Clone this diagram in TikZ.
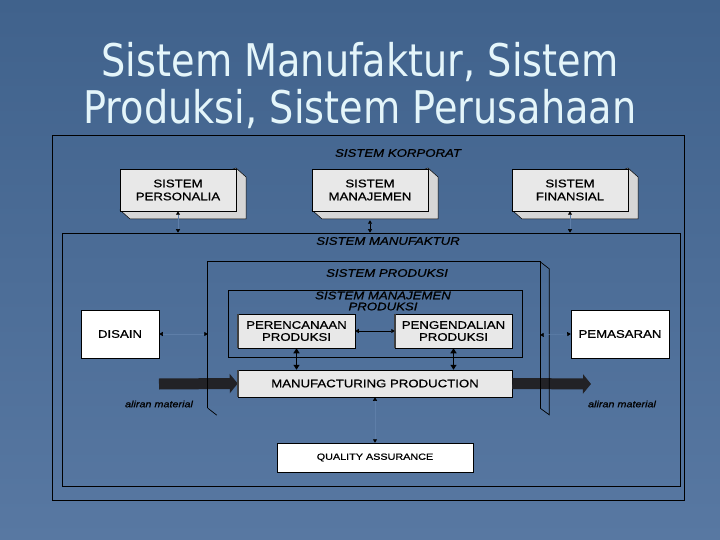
\documentclass[tikz,border=0pt]{standalone}
\usepackage{fontspec}
\setmainfont{Liberation Sans}
\newfontfamily\titlefont[FakeStretch=0.85]{DejaVu Sans}
\newfontfamily\boxfont[FakeStretch=1.2,FakeBold=0.8]{Liberation Sans}
\usetikzlibrary{arrows.meta}

\definecolor{slatetop}{RGB}{64,98,140}
\definecolor{slatebot}{RGB}{88,120,162}
\definecolor{titletext}{RGB}{228,245,250}
\definecolor{facegray}{RGB}{232,232,232}
\definecolor{sidegray}{RGB}{214,214,214}
\definecolor{faintline}{RGB}{94,126,168}
\definecolor{flowdark}{RGB}{34,34,38}

\tikzset{
  tipsmall/.tip={Triangle[length=3.5pt,width=4pt,color=black]},
  tipbig/.tip={Triangle[length=5pt,width=6pt]},
  frame/.style={draw=black, line width=0.7pt, inner sep=0pt},
  cubeface/.style={draw=black, fill=facegray, line width=0.5pt, inner sep=0pt,
    minimum width=116, minimum height=42, align=center,
    font=\boxfont\fontsize{11}{13}\selectfont},
  graybox/.style={draw=black, fill=facegray, line width=0.5pt, inner sep=0pt,
    align=center, font=\boxfont\fontsize{11}{12}\selectfont},
  whitebox/.style={draw=black, fill=white, line width=0.5pt, inner sep=0pt,
    align=center, font=\boxfont\fontsize{11}{12}\selectfont},
  syslabel/.style={inner sep=0pt, align=center, font=\boxfont\itshape\fontsize{11}{11}\selectfont},
  flowlabel/.style={inner sep=0pt, font=\boxfont\itshape\fontsize{9}{9}\selectfont},
  link/.style={draw=faintline, line width=0.5pt, tipsmall-tipsmall},
  biglink/.style={draw=black, line width=1.6pt, tipbig-tipbig},
  flow/.style={draw=flowdark, line width=11pt, -{Triangle[length=8pt,width=19pt]}},
  title/.style={inner sep=0pt, text=titletext, font=\titlefont\fontsize{45}{47}\selectfont}
}

\begin{document}
\begin{tikzpicture}[x=1pt,y=-1pt]
\useasboundingbox (0,0) rectangle (720,540);
\shade[top color=slatetop, bottom color=slatebot] (0,0) rectangle (720,540);

% title
\node[title, anchor=base] (title1) at (360,77) {Sistem Manufaktur, Sistem};
\node[title, anchor=base] (title2) at (360,124) {Produksi, Sistem Perusahaan};

% outer frames
\node[frame, minimum width=632, minimum height=365] (korporat) at (368,317.5) {};
\node[syslabel] (korporatlbl) at (398,153) {SISTEM KORPORAT};
\node[frame, minimum width=618, minimum height=253] (manufaktur) at (371,359.5) {};
\node[syslabel] (manufakturlbl) at (388,241) {SISTEM MANUFAKTUR};

% top boxes with depth
\foreach \n/\x/\txt in {personalia/178/{SISTEM\\PERSONALIA},
                         manajemen/370/{SISTEM\\MANAJEMEN},
                         finansial/570/{SISTEM\\FINANSIAL}} {
  \fill[sidegray, draw=black, line width=0.5pt] (\x-58,210) -- ++(10,9) -- ++(116,0) -- ++(0,-42) -- ++(-10,-9) -- cycle;
  \node[cubeface] (\n) at (\x,190) {\txt};
}

% flows (drawn below the production frame)
\coordinate (inflow) at (159,384);
\coordinate (outflow) at (591,384);
\node[graybox, minimum width=274, minimum height=27] (mfgprod) at (375,383.5) {MANUFACTURING PRODUCTION};
\draw[flow] (inflow) -- (mfgprod.west);
\draw[flow] (mfgprod.east) -- (outflow);
\node[flowlabel] (inlbl) at (159,404) {aliran material};
\node[flowlabel] (outlbl) at (622,404) {aliran material};

% production system frame
\node[inner sep=0pt, minimum width=332, minimum height=146] (produksi) at (374,335) {};
\draw[line width=0.7pt] (produksi.south west) |- (produksi.north east) -- (produksi.south east);
\draw[line width=0.7pt] (produksi.north east) -- ++(9,7) -- ++(0,146) -- (produksi.south east);
\draw[line width=0.7pt] (produksi.south west) -- ++(9,7);
\node[syslabel] (produksilbl) at (387,273) {SISTEM PRODUKSI};

\node[frame, minimum width=294, minimum height=67] (mgtprod) at (375,323.5) {};
\node[syslabel] (mgtprodlbl) at (383,301) {SISTEM MANAJEMEN\\PRODUKSI};

\node[graybox, minimum width=117, minimum height=34] (rencana) at (296.5,331) {PERENCANAAN\\PRODUKSI};
\node[graybox, minimum width=117, minimum height=34] (kendali) at (453.5,331) {PENGENDALIAN\\PRODUKSI};
\foreach \n in {rencana,kendali,mfgprod}
  \draw[line width=1.6pt, draw=black!75] (\n.north west) -- (\n.south west);

\node[whitebox, minimum width=78, minimum height=48] (disain) at (120,334) {DISAIN};
\node[whitebox, minimum width=98, minimum height=48] (pasar) at (620,334) {PEMASARAN};
\node[whitebox, minimum width=196, minimum height=29, font=\boxfont\fontsize{9}{10}\selectfont] (qa) at (375,457.5) {QUALITY ASSURANCE};

% connectors
\foreach \n in {personalia,finansial}
  \draw[link] (\n.south) -- (\n.south |- manufaktur.north);
\draw[draw=black, line width=0.6pt, tipsmall-tipsmall] (manajemen.south) ++(0,9) -- (manajemen.south |- manufaktur.north);
\draw[link] (disain.east) -- (disain.east -| produksi.west);
\draw[link] (produksi.east) -- (pasar.west);
\draw[link] (mfgprod.south) -- (qa.north);
\draw[biglink] (rencana.south) -- (rencana.south |- mfgprod.north);
\draw[biglink] (kendali.south) -- (kendali.south |- mfgprod.north);
\draw[draw=black, line width=0.8pt, tipsmall-tipsmall] (rencana.east) -- (kendali.west);

\end{tikzpicture}
\end{document}
